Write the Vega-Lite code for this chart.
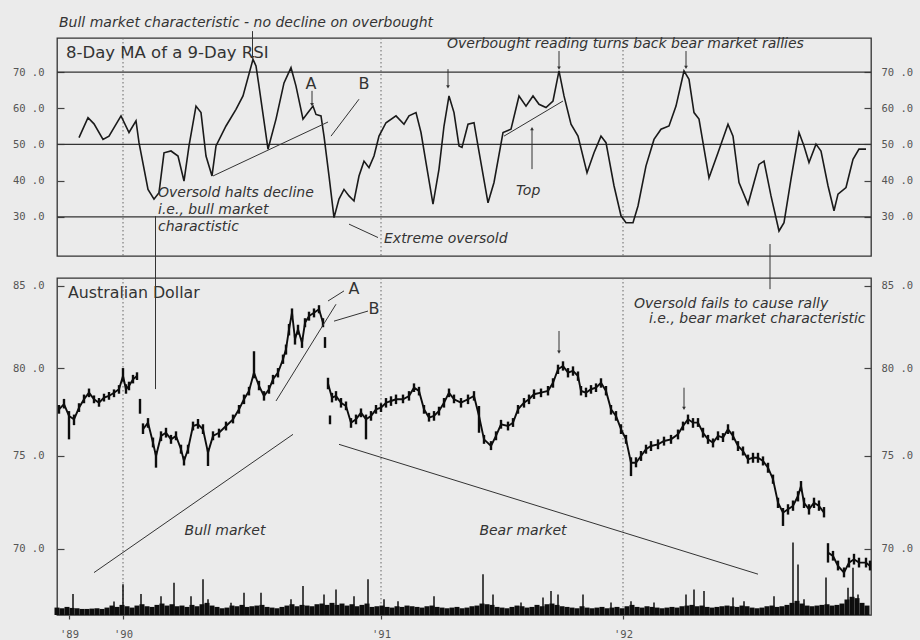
{
"$schema": "https://vega.github.io/schema/vega-lite/v6.json",
"background": "#ebebeb",
"padding": {"left": 11, "top": 15, "right": 9, "bottom": 2},
"bounds": "flush",
"spacing": 22,
"config": {
  "view": {"stroke": "#333", "strokeWidth": 1.3},
  "axis": {"domain": false, "grid": false, "labelFont": "DejaVu Sans Mono", "labelFontSize": 10.5, "labelColor": "#555", "tickColor": "#444", "tickWidth": 1.2},
  "text": {"font": "DejaVu Sans", "color": "#333"}
},
"datasets": {
  "yrs": [{"d": 66}, {"d": 324}, {"d": 566}],
  "levels": [{"h": 30}, {"h": 50}, {"h": 70}],
  "rsi": [{"d":22,"r":51.9},{"d":31,"r":57.4},{"d":37,"r":55.7},{"d":46,"r":51.4},{"d":52,"r":52.3},{"d":64,"r":57.9},{"d":72,"r":53.3},{"d":79,"r":56.5},{"d":82,"r":50.5},{"d":91,"r":37.6},{"d":97,"r":34.9},{"d":102,"r":36.7},{"d":107,"r":47.7},{"d":114,"r":48.2},{"d":121,"r":46.8},{"d":127,"r":39.9},{"d":132,"r":49.6},{"d":139,"r":60.6},{"d":144,"r":58.8},{"d":149,"r":46.8},{"d":155,"r":41.3},{"d":159,"r":49.6},{"d":169,"r":55.1},{"d":179,"r":59.7},{"d":186,"r":63.4},{"d":196,"r":73.5},{"d":199,"r":71.7},{"d":202,"r":66.1},{"d":211,"r":48.7},{"d":219,"r":57},{"d":227,"r":67},{"d":234,"r":71.2},{"d":239,"r":66.1},{"d":246,"r":57},{"d":251,"r":58.8},{"d":256,"r":60.6},{"d":259,"r":58.3},{"d":264,"r":57.9},{"d":267,"r":52.3},{"d":272,"r":41.3},{"d":277,"r":29.8},{"d":282,"r":34.9},{"d":287,"r":37.6},{"d":292,"r":35.8},{"d":297,"r":34.4},{"d":302,"r":41.3},{"d":307,"r":45.4},{"d":312,"r":43.6},{"d":317,"r":46.8},{"d":322,"r":52.3},{"d":329,"r":56},{"d":339,"r":57.9},{"d":347,"r":55.6},{"d":352,"r":57.9},{"d":359,"r":58.8},{"d":364,"r":53.3},{"d":369,"r":45},{"d":376,"r":33.5},{"d":382,"r":43.2},{"d":387,"r":55.1},{"d":392,"r":63.4},{"d":397,"r":58.8},{"d":402,"r":49.6},{"d":405,"r":49.2},{"d":411,"r":55.6},{"d":417,"r":56},{"d":421,"r":49.6},{"d":431,"r":33.9},{"d":437,"r":39.5},{"d":446,"r":53.3},{"d":454,"r":54.2},{"d":462,"r":63.4},{"d":469,"r":60.6},{"d":476,"r":63.4},{"d":482,"r":61.1},{"d":489,"r":60.2},{"d":496,"r":62},{"d":502,"r":70.3},{"d":507,"r":63.4},{"d":514,"r":55.6},{"d":521,"r":52.3},{"d":530,"r":42.2},{"d":537,"r":47.7},{"d":544,"r":52.3},{"d":549,"r":50.5},{"d":557,"r":38.6},{"d":564,"r":30.3},{"d":569,"r":28.4},{"d":576,"r":28.4},{"d":581,"r":33},{"d":589,"r":44.1},{"d":597,"r":51.4},{"d":604,"r":54.2},{"d":612,"r":55.1},{"d":619,"r":60.6},{"d":627,"r":70.3},{"d":632,"r":68},{"d":637,"r":58.8},{"d":642,"r":57},{"d":652,"r":40.8},{"d":661,"r":47.7},{"d":671,"r":55.6},{"d":676,"r":52.3},{"d":682,"r":39.5},{"d":691,"r":33.5},{"d":697,"r":39.5},{"d":702,"r":44.5},{"d":707,"r":45.4},{"d":714,"r":35.8},{"d":722,"r":26.1},{"d":727,"r":28.4},{"d":734,"r":40.4},{"d":742,"r":53.3},{"d":747,"r":49.6},{"d":752,"r":45},{"d":759,"r":50.1},{"d":764,"r":48.2},{"d":771,"r":38.6},{"d":777,"r":31.7},{"d":781,"r":36.3},{"d":789,"r":38.1},{"d":796,"r":45.9},{"d":802,"r":48.7},{"d":809,"r":48.7}],
  "segT": [
    {"d1":195.5,"r1":81.3,"d2":195.5,"r2":74.0},
    {"d1":255,"r1":64.8,"d2":255,"r2":61.0},
    {"d1":302,"r1":62.5,"d2":274,"r2":52.3},
    {"d1":156,"r1":41.3,"d2":271,"r2":56.2},
    {"d1":391,"r1":70.8,"d2":391,"r2":65.9},
    {"d1":502,"r1":75.8,"d2":502,"r2":71.1},
    {"d1":629,"r1":75.8,"d2":629,"r2":71.3},
    {"d1":475,"r1":43.2,"d2":475,"r2":54.4},
    {"d1":447,"r1":52.3,"d2":506,"r2":62.0},
    {"d1":292,"r1":28.0,"d2":321,"r2":24.3}
  ],
  "tipDownT": [{"d":195.5,"r":74.0},{"d":255,"r":61.0},{"d":391,"r":65.9},{"d":502,"r":71.1},{"d":629,"r":71.3}],
  "tipUpT": [{"d":475,"r":54.4}],
  "annT": [
    {"d":2,"r":83.5,"t":"Bull market characteristic - no decline on overbought"},
    {"d":390,"r":77.7,"t":"Overbought reading turns back bear market rallies"},
    {"d":101,"r":36.7,"t":"Oversold halts decline"},
    {"d":101,"r":32.0,"t":"i.e., bull market"},
    {"d":101,"r":27.1,"t":"charactistic"},
    {"d":459,"r":37.2,"t":"Top"},
    {"d":327,"r":23.8,"t":"Extreme oversold"}
  ],
  "abT": [{"d":254,"r":66.8,"t":"A"},{"d":307,"r":66.6,"t":"B"}],
  "px": [
    {"d":2,"c":77.6,"lo":77.35,"hi":77.85,"s":"a"},{"d":7,"c":77.9,"lo":77.65,"hi":78.2,"s":"a"},{"d":12,"c":77.22,"lo":75.9,"hi":77.5,"s":"a"},{"d":17,"c":77.03,"lo":76.7,"hi":77.3,"s":"a"},{"d":22,"c":77.69,"lo":77.45,"hi":77.95,"s":"a"},{"d":27,"c":78.18,"lo":77.95,"hi":78.45,"s":"a"},{"d":32,"c":78.56,"lo":78.3,"hi":78.8,"s":"a"},{"d":37,"c":78.18,"lo":77.95,"hi":78.4,"s":"a"},{"d":42,"c":77.98,"lo":77.75,"hi":78.25,"s":"a"},{"d":47,"c":78.27,"lo":78.05,"hi":78.5,"s":"a"},{"d":52,"c":78.37,"lo":78.15,"hi":78.6,"s":"a"},{"d":57,"c":78.56,"lo":78.3,"hi":78.75,"s":"a"},{"d":62,"c":78.76,"lo":78.5,"hi":79.0,"s":"a"},{"d":66,"c":79.53,"lo":79.2,"hi":80.0,"s":"a"},{"d":69,"c":78.76,"lo":78.5,"hi":79.05,"s":"a"},{"d":72,"c":78.95,"lo":78.7,"hi":79.2,"s":"a"},{"d":76,"c":79.34,"lo":79.1,"hi":79.6,"s":"a"},{"d":80,"c":79.53,"lo":79.3,"hi":79.75,"s":"a"},
    {"d":83,"c":77.75,"lo":77.35,"hi":78.2,"s":"i1"},
    {"d":86,"c":76.47,"lo":76.2,"hi":76.8,"s":"b"},{"d":91,"c":76.84,"lo":76.55,"hi":77.1,"s":"b"},{"d":96,"c":75.71,"lo":75.45,"hi":76.0,"s":"b"},{"d":99,"c":74.97,"lo":74.33,"hi":75.25,"s":"b"},{"d":104,"c":76.09,"lo":75.8,"hi":76.35,"s":"b"},{"d":109,"c":76.27,"lo":76.0,"hi":76.55,"s":"b"},{"d":114,"c":75.9,"lo":75.65,"hi":76.15,"s":"b"},{"d":119,"c":76.09,"lo":75.85,"hi":76.35,"s":"b"},{"d":124,"c":75.35,"lo":75.1,"hi":75.6,"s":"b"},{"d":127,"c":74.7,"lo":74.45,"hi":74.95,"s":"b"},{"d":131,"c":75.35,"lo":75.1,"hi":75.6,"s":"b"},{"d":136,"c":76.65,"lo":76.4,"hi":76.9,"s":"b"},{"d":141,"c":76.75,"lo":76.5,"hi":77.05,"s":"b"},{"d":146,"c":76.47,"lo":76.2,"hi":76.75,"s":"b"},{"d":151,"c":75.16,"lo":74.42,"hi":75.4,"s":"b"},{"d":156,"c":76.09,"lo":75.85,"hi":76.35,"s":"b"},{"d":162,"c":76.27,"lo":76.0,"hi":76.5,"s":"b"},{"d":169,"c":76.65,"lo":76.4,"hi":76.9,"s":"b"},{"d":176,"c":77.03,"lo":76.8,"hi":77.3,"s":"b"},{"d":182,"c":77.6,"lo":77.35,"hi":77.85,"s":"b"},{"d":187,"c":78.18,"lo":77.9,"hi":78.45,"s":"b"},{"d":192,"c":78.66,"lo":78.4,"hi":78.9,"s":"b"},{"d":197,"c":79.73,"lo":79.4,"hi":81.0,"s":"b"},{"d":202,"c":78.95,"lo":78.7,"hi":79.25,"s":"b"},{"d":207,"c":78.37,"lo":78.1,"hi":78.65,"s":"b"},{"d":212,"c":78.76,"lo":78.5,"hi":79.0,"s":"b"},{"d":216,"c":79.34,"lo":79.05,"hi":79.6,"s":"b"},{"d":221,"c":79.73,"lo":79.45,"hi":80.0,"s":"b"},{"d":226,"c":80.52,"lo":80.25,"hi":80.8,"s":"b"},{"d":229,"c":81.12,"lo":80.8,"hi":81.4,"s":"b"},{"d":232,"c":82.32,"lo":81.95,"hi":82.65,"s":"b"},{"d":235,"c":83.34,"lo":83.05,"hi":83.6,"s":"b"},{"d":238,"c":81.72,"lo":81.4,"hi":82.0,"s":"b"},{"d":241,"c":82.32,"lo":82.0,"hi":82.6,"s":"b"},{"d":245,"c":81.51,"lo":81.2,"hi":81.8,"s":"b"},{"d":248,"c":82.72,"lo":82.45,"hi":83.0,"s":"b"},{"d":252,"c":83.13,"lo":82.85,"hi":83.4,"s":"b"},{"d":257,"c":83.34,"lo":83.05,"hi":83.6,"s":"b"},{"d":262,"c":83.55,"lo":83.3,"hi":83.8,"s":"b"},{"d":266,"c":82.72,"lo":82.45,"hi":83.0,"s":"b"},
    {"d":268,"c":81.51,"lo":81.2,"hi":81.85,"s":"i2"},
    {"d":271,"c":79.1,"lo":78.76,"hi":79.43,"s":"c"},
    {"d":273,"c":77.0,"lo":76.75,"hi":77.25,"s":"i3"},
    {"d":275,"c":78.27,"lo":78.0,"hi":78.55,"s":"c"},{"d":279,"c":78.37,"lo":78.1,"hi":78.65,"s":"c"},{"d":284,"c":77.98,"lo":77.7,"hi":78.25,"s":"c"},{"d":289,"c":77.79,"lo":77.55,"hi":78.05,"s":"c"},{"d":294,"c":76.84,"lo":76.55,"hi":77.1,"s":"c"},{"d":299,"c":77.03,"lo":76.75,"hi":77.3,"s":"c"},{"d":304,"c":77.41,"lo":77.15,"hi":77.65,"s":"c"},{"d":309,"c":77.03,"lo":75.9,"hi":77.3,"s":"c"},{"d":314,"c":77.22,"lo":76.95,"hi":77.5,"s":"c"},{"d":319,"c":77.6,"lo":77.35,"hi":77.85,"s":"c"},{"d":324,"c":77.69,"lo":77.45,"hi":77.95,"s":"c"},{"d":329,"c":77.98,"lo":77.7,"hi":78.25,"s":"c"},{"d":334,"c":78.08,"lo":77.8,"hi":78.35,"s":"c"},{"d":339,"c":78.18,"lo":77.9,"hi":78.45,"s":"c"},{"d":346,"c":78.18,"lo":77.95,"hi":78.45,"s":"c"},{"d":352,"c":78.37,"lo":78.1,"hi":78.65,"s":"c"},{"d":357,"c":78.85,"lo":78.6,"hi":79.1,"s":"c"},{"d":362,"c":78.66,"lo":78.4,"hi":78.9,"s":"c"},{"d":367,"c":77.6,"lo":77.35,"hi":77.85,"s":"c"},{"d":372,"c":77.13,"lo":76.9,"hi":77.4,"s":"c"},{"d":377,"c":77.22,"lo":76.95,"hi":77.5,"s":"c"},{"d":382,"c":77.51,"lo":77.25,"hi":77.75,"s":"c"},{"d":387,"c":77.98,"lo":77.7,"hi":78.25,"s":"c"},{"d":392,"c":78.56,"lo":78.3,"hi":78.8,"s":"c"},{"d":397,"c":78.18,"lo":77.95,"hi":78.45,"s":"c"},{"d":404,"c":77.98,"lo":77.7,"hi":78.25,"s":"c"},{"d":411,"c":78.18,"lo":77.9,"hi":78.45,"s":"c"},{"d":417,"c":78.37,"lo":78.1,"hi":78.65,"s":"c"},{"d":422,"c":77.22,"lo":76.27,"hi":77.79,"s":"c"},{"d":427,"c":75.9,"lo":75.65,"hi":76.15,"s":"c"},{"d":434,"c":75.53,"lo":75.3,"hi":75.8,"s":"c"},{"d":439,"c":76.09,"lo":75.85,"hi":76.35,"s":"c"},{"d":444,"c":76.75,"lo":76.5,"hi":77.0,"s":"c"},{"d":451,"c":76.65,"lo":76.4,"hi":76.9,"s":"c"},{"d":456,"c":76.84,"lo":76.6,"hi":77.1,"s":"c"},{"d":461,"c":77.6,"lo":77.35,"hi":77.85,"s":"c"},{"d":467,"c":77.98,"lo":77.7,"hi":78.25,"s":"c"},{"d":472,"c":78.18,"lo":77.9,"hi":78.45,"s":"c"},{"d":477,"c":78.47,"lo":78.2,"hi":78.75,"s":"c"},{"d":484,"c":78.56,"lo":78.3,"hi":78.8,"s":"c"},{"d":491,"c":78.66,"lo":78.4,"hi":78.95,"s":"c"},{"d":496,"c":79.14,"lo":78.85,"hi":79.4,"s":"c"},{"d":501,"c":79.93,"lo":79.65,"hi":80.2,"s":"c"},{"d":506,"c":80.12,"lo":79.85,"hi":80.4,"s":"c"},{"d":511,"c":79.73,"lo":79.45,"hi":80.0,"s":"c"},{"d":516,"c":79.83,"lo":79.55,"hi":80.1,"s":"c"},{"d":521,"c":79.53,"lo":79.25,"hi":79.8,"s":"c"},{"d":524,"c":78.66,"lo":78.4,"hi":78.95,"s":"c"},{"d":529,"c":78.56,"lo":78.3,"hi":78.85,"s":"c"},{"d":534,"c":78.76,"lo":78.5,"hi":79.0,"s":"c"},{"d":539,"c":78.85,"lo":78.6,"hi":79.1,"s":"c"},{"d":544,"c":79.14,"lo":78.85,"hi":79.4,"s":"c"},{"d":549,"c":78.66,"lo":78.4,"hi":78.95,"s":"c"},{"d":554,"c":77.6,"lo":77.3,"hi":77.85,"s":"c"},{"d":559,"c":77.22,"lo":76.95,"hi":77.5,"s":"c"},{"d":564,"c":76.47,"lo":76.2,"hi":76.75,"s":"c"},{"d":569,"c":75.9,"lo":75.65,"hi":76.15,"s":"c"},{"d":574,"c":74.6,"lo":73.87,"hi":74.9,"s":"c"},{"d":579,"c":74.6,"lo":74.35,"hi":74.9,"s":"c"},{"d":584,"c":74.97,"lo":74.7,"hi":75.25,"s":"c"},{"d":589,"c":75.35,"lo":75.1,"hi":75.6,"s":"c"},{"d":594,"c":75.53,"lo":75.25,"hi":75.8,"s":"c"},{"d":601,"c":75.62,"lo":75.35,"hi":75.9,"s":"c"},{"d":607,"c":75.81,"lo":75.55,"hi":76.05,"s":"c"},{"d":614,"c":75.9,"lo":75.65,"hi":76.15,"s":"c"},{"d":621,"c":76.18,"lo":75.9,"hi":76.45,"s":"c"},{"d":626,"c":76.65,"lo":76.4,"hi":76.9,"s":"c"},{"d":631,"c":77.03,"lo":76.75,"hi":77.3,"s":"c"},{"d":636,"c":76.84,"lo":76.55,"hi":77.1,"s":"c"},{"d":641,"c":76.84,"lo":76.6,"hi":77.1,"s":"c"},{"d":646,"c":76.27,"lo":76.0,"hi":76.55,"s":"c"},{"d":651,"c":75.9,"lo":75.65,"hi":76.15,"s":"c"},{"d":656,"c":75.71,"lo":75.45,"hi":75.95,"s":"c"},{"d":661,"c":76.09,"lo":75.85,"hi":76.35,"s":"c"},{"d":666,"c":76.0,"lo":75.75,"hi":76.25,"s":"c"},{"d":671,"c":76.47,"lo":76.2,"hi":76.75,"s":"c"},{"d":676,"c":76.09,"lo":75.85,"hi":76.35,"s":"c"},{"d":681,"c":75.53,"lo":75.25,"hi":75.8,"s":"c"},{"d":686,"c":75.25,"lo":75.0,"hi":75.5,"s":"c"},{"d":691,"c":74.79,"lo":74.55,"hi":75.05,"s":"c"},{"d":696,"c":74.88,"lo":74.6,"hi":75.15,"s":"c"},{"d":701,"c":74.88,"lo":74.6,"hi":75.15,"s":"c"},{"d":706,"c":74.7,"lo":74.45,"hi":74.95,"s":"c"},{"d":711,"c":74.33,"lo":74.05,"hi":74.6,"s":"c"},{"d":716,"c":73.7,"lo":73.45,"hi":73.95,"s":"c"},{"d":721,"c":72.43,"lo":72.15,"hi":72.7,"s":"c"},{"d":726,"c":71.9,"lo":71.2,"hi":72.15,"s":"c"},{"d":731,"c":72.08,"lo":71.8,"hi":72.35,"s":"c"},{"d":736,"c":72.26,"lo":72.0,"hi":72.55,"s":"c"},{"d":741,"c":72.79,"lo":72.5,"hi":73.05,"s":"c"},{"d":744,"c":73.33,"lo":73.05,"hi":73.6,"s":"c"},{"d":747,"c":72.43,"lo":72.15,"hi":72.7,"s":"c"},{"d":752,"c":72.08,"lo":71.8,"hi":72.35,"s":"c"},{"d":757,"c":72.43,"lo":72.15,"hi":72.7,"s":"c"},{"d":762,"c":72.26,"lo":72.0,"hi":72.55,"s":"c"},{"d":767,"c":71.9,"lo":71.65,"hi":72.2,"s":"c"},
    {"d":771,"c":69.81,"lo":69.3,"hi":70.3,"s":"d"},{"d":776,"c":69.64,"lo":69.4,"hi":69.9,"s":"d"},{"d":781,"c":69.13,"lo":68.9,"hi":69.4,"s":"d"},{"d":787,"c":68.79,"lo":68.55,"hi":69.05,"s":"d"},{"d":792,"c":69.3,"lo":69.05,"hi":69.55,"s":"d"},{"d":797,"c":69.47,"lo":69.2,"hi":69.75,"s":"d"},{"d":802,"c":69.3,"lo":69.05,"hi":69.55,"s":"d"},{"d":809,"c":69.3,"lo":69.05,"hi":69.55,"s":"d"},{"d":813,"c":69.13,"lo":68.9,"hi":69.4,"s":"d"}
  ],
  "segB": [
    {"d1":287,"v1":84.69,"d2":271,"v2":84.06},
    {"d1":311,"v1":83.44,"d2":277,"v2":82.82},
    {"d1":219,"v1":78.08,"d2":279,"v2":83.86},
    {"d1":37,"v1":68.79,"d2":236,"v2":76.18},
    {"d1":282,"v1":75.62,"d2":701,"v2":68.71},
    {"d1":502,"v1":82.22,"d2":502,"v2":80.95},
    {"d1":627,"v1":78.85,"d2":627,"v2":77.65},
    {"d1":98.5,"v1":78.77,"d2":98.5,"v2":89.5},
    {"d1":713,"v1":84.8,"d2":713,"v2":87.67}
  ],
  "tipDownB": [{"d":502,"v":80.95},{"d":627,"v":77.65}],
  "annB": [
    {"d":168,"v":70.94,"t":"Bull market"},
    {"d":466,"v":70.94,"t":"Bear market"}
  ],
  "annB2": [
    {"d":577,"v":83.9,"t":"Oversold fails to cause rally"},
    {"d":592,"v":82.93,"t":"i.e., bear market characteristic"}
  ],
  "abB": [{"d":297,"v":84.79,"t":"A"},{"d":317,"v":83.55,"t":"B"}],
  "volBase": [{"d":0,"v":2.2},{"d":5,"v":2.0},{"d":10,"v":2.4},{"d":15,"v":2.1},{"d":20,"v":2.0},{"d":25,"v":1.8},{"d":30,"v":1.8},{"d":35,"v":1.9},{"d":40,"v":2.0},{"d":45,"v":1.8},{"d":50,"v":2.2},{"d":55,"v":2.8},{"d":60,"v":2.4},{"d":65,"v":3.0},{"d":70,"v":2.6},{"d":75,"v":2.2},{"d":80,"v":2.8},{"d":85,"v":3.2},{"d":90,"v":2.6},{"d":95,"v":2.4},{"d":100,"v":3.0},{"d":105,"v":3.4},{"d":110,"v":2.8},{"d":115,"v":3.2},{"d":120,"v":2.6},{"d":125,"v":2.8},{"d":130,"v":2.4},{"d":135,"v":3.0},{"d":140,"v":2.6},{"d":145,"v":3.2},{"d":150,"v":3.6},{"d":155,"v":2.8},{"d":160,"v":2.4},{"d":165,"v":2.0},{"d":170,"v":2.2},{"d":175,"v":2.8},{"d":180,"v":2.6},{"d":185,"v":3.0},{"d":190,"v":2.4},{"d":195,"v":2.6},{"d":200,"v":2.8},{"d":205,"v":3.0},{"d":210,"v":2.4},{"d":215,"v":2.2},{"d":220,"v":2.0},{"d":225,"v":2.4},{"d":230,"v":2.8},{"d":235,"v":3.2},{"d":240,"v":2.6},{"d":245,"v":3.0},{"d":250,"v":2.8},{"d":255,"v":2.6},{"d":260,"v":3.2},{"d":265,"v":3.4},{"d":270,"v":3.0},{"d":275,"v":3.6},{"d":280,"v":3.0},{"d":285,"v":3.4},{"d":290,"v":2.8},{"d":295,"v":3.2},{"d":300,"v":2.6},{"d":305,"v":3.0},{"d":310,"v":3.4},{"d":315,"v":2.4},{"d":320,"v":2.6},{"d":325,"v":2.8},{"d":330,"v":2.4},{"d":335,"v":2.2},{"d":340,"v":2.6},{"d":345,"v":2.4},{"d":350,"v":2.8},{"d":355,"v":2.6},{"d":360,"v":2.4},{"d":365,"v":2.2},{"d":370,"v":2.6},{"d":375,"v":2.8},{"d":380,"v":2.4},{"d":385,"v":2.2},{"d":390,"v":2.0},{"d":395,"v":2.2},{"d":400,"v":2.4},{"d":405,"v":2.0},{"d":410,"v":2.2},{"d":415,"v":2.6},{"d":420,"v":2.8},{"d":425,"v":3.4},{"d":430,"v":3.2},{"d":435,"v":3.0},{"d":440,"v":2.4},{"d":445,"v":2.2},{"d":450,"v":2.0},{"d":455,"v":2.4},{"d":460,"v":2.8},{"d":465,"v":2.6},{"d":470,"v":2.2},{"d":475,"v":2.4},{"d":480,"v":3.0},{"d":485,"v":2.6},{"d":490,"v":3.2},{"d":495,"v":3.4},{"d":500,"v":3.0},{"d":505,"v":2.6},{"d":510,"v":2.4},{"d":515,"v":2.2},{"d":520,"v":2.0},{"d":525,"v":2.6},{"d":530,"v":2.2},{"d":535,"v":2.0},{"d":540,"v":2.2},{"d":545,"v":2.4},{"d":550,"v":2.0},{"d":555,"v":2.2},{"d":560,"v":2.4},{"d":565,"v":2.0},{"d":570,"v":2.6},{"d":575,"v":3.0},{"d":580,"v":2.4},{"d":585,"v":2.2},{"d":590,"v":2.6},{"d":595,"v":2.4},{"d":600,"v":2.2},{"d":605,"v":2.0},{"d":610,"v":2.2},{"d":615,"v":2.4},{"d":620,"v":2.2},{"d":625,"v":2.6},{"d":630,"v":2.8},{"d":635,"v":3.0},{"d":640,"v":2.6},{"d":645,"v":2.8},{"d":650,"v":2.4},{"d":655,"v":2.2},{"d":660,"v":2.4},{"d":665,"v":2.6},{"d":670,"v":2.8},{"d":675,"v":2.6},{"d":680,"v":2.4},{"d":685,"v":2.8},{"d":690,"v":2.6},{"d":695,"v":2.2},{"d":700,"v":2.0},{"d":705,"v":2.2},{"d":710,"v":2.6},{"d":715,"v":2.8},{"d":720,"v":2.4},{"d":725,"v":2.6},{"d":730,"v":3.0},{"d":735,"v":3.6},{"d":740,"v":4.2},{"d":745,"v":3.4},{"d":750,"v":2.8},{"d":755,"v":2.6},{"d":760,"v":2.8},{"d":765,"v":3.0},{"d":770,"v":3.2},{"d":775,"v":2.8},{"d":780,"v":3.0},{"d":785,"v":3.4},{"d":790,"v":4.6},{"d":795,"v":5.4},{"d":800,"v":5.0},{"d":805,"v":3.6},{"d":810,"v":2.8}],
  "volSpike": [{"d":16,"v":6.2},{"d":57,"v":4.0},{"d":66,"v":9.1},{"d":84,"v":6.2},{"d":104,"v":5.6},{"d":117,"v":9.6},{"d":134,"v":5.6},{"d":146,"v":10.6},{"d":151,"v":4.7},{"d":174,"v":3.6},{"d":187,"v":6.6},{"d":204,"v":6.6},{"d":234,"v":4.7},{"d":246,"v":8.6},{"d":267,"v":6.1},{"d":279,"v":7.6},{"d":297,"v":5.6},{"d":311,"v":10.6},{"d":327,"v":4.7},{"d":341,"v":4.1},{"d":377,"v":5.6},{"d":426,"v":12.1},{"d":436,"v":6.1},{"d":464,"v":3.7},{"d":486,"v":5.2},{"d":494,"v":7.1},{"d":501,"v":6.1},{"d":526,"v":6.1},{"d":554,"v":3.7},{"d":574,"v":4.1},{"d":597,"v":3.7},{"d":629,"v":6.1},{"d":637,"v":7.6},{"d":647,"v":7.1},{"d":676,"v":5.2},{"d":687,"v":4.1},{"d":717,"v":5.6},{"d":736,"v":21.5},{"d":741,"v":15.0},{"d":747,"v":4.7},{"d":769,"v":11.1},{"d":791,"v":8.1},{"d":796,"v":14.0},{"d":801,"v":6.1},{"d":811,"v":2.5}]
},
"vconcat": [
  {
    "width": 814, "height": 218,
    "layer": [
      {"data": {"name": "yrs"}, "mark": {"type": "rule", "strokeDash": [1.5, 2.5], "color": "#666", "strokeWidth": 1},
       "encoding": {"x": {"field": "d", "type": "quantitative", "scale": {"domain": [0, 814], "nice": false, "zero": false}, "axis": null}}},
      {"data": {"name": "levels"}, "mark": {"type": "rule", "color": "#333", "strokeWidth": 1.3},
       "encoding": {"y": {"field": "h", "type": "quantitative", "scale": {"domain": [19.2, 79.4], "nice": false, "zero": false},
         "axis": {"orient": "right", "values": [30, 40, 50, 60, 70], "tickSize": -7, "labelPadding": 17, "title": null, "labelExpr": "replace(format(datum.value, '.1f'), '.', ' .')"}}}},
      {"data": {"name": "rsi"}, "mark": {"type": "line", "color": "#1a1a1a", "strokeWidth": 1.6},
       "encoding": {"x": {"field": "d", "type": "quantitative", "scale": {"domain": [0, 814], "nice": false, "zero": false}, "axis": null},
         "y": {"field": "r", "type": "quantitative", "scale": {"domain": [19.2, 79.4], "nice": false, "zero": false},
         "axis": {"orient": "left", "values": [30, 40, 50, 60, 70], "tickSize": -7, "labelPadding": 20, "title": null, "labelExpr": "replace(format(datum.value, '.1f'), '.', ' .')"}}}},
      {"data": {"name": "segT"}, "mark": {"type": "rule", "color": "#333", "strokeWidth": 1},
       "encoding": {"x": {"field": "d1", "type": "quantitative", "scale": {"domain": [0, 814], "nice": false, "zero": false}, "axis": null},
         "x2": {"field": "d2"},
         "y": {"field": "r1", "type": "quantitative", "scale": {"domain": [19.2, 79.4], "nice": false, "zero": false}, "axis": null},
         "y2": {"field": "r2"}}},
      {"data": {"name": "tipDownT"}, "mark": {"type": "point", "shape": "triangle-down", "filled": true, "color": "#333", "size": 14, "opacity": 1},
       "encoding": {"x": {"field": "d", "type": "quantitative", "scale": {"domain": [0, 814], "nice": false, "zero": false}, "axis": null},
         "y": {"field": "r", "type": "quantitative", "scale": {"domain": [19.2, 79.4], "nice": false, "zero": false}, "axis": null}}},
      {"data": {"name": "tipUpT"}, "mark": {"type": "point", "shape": "triangle-up", "filled": true, "color": "#333", "size": 14, "opacity": 1},
       "encoding": {"x": {"field": "d", "type": "quantitative", "scale": {"domain": [0, 814], "nice": false, "zero": false}, "axis": null},
         "y": {"field": "r", "type": "quantitative", "scale": {"domain": [19.2, 79.4], "nice": false, "zero": false}, "axis": null}}},
      {"data": {"name": "annT"}, "mark": {"type": "text", "align": "left", "baseline": "middle", "fontStyle": "italic", "fontSize": 14, "color": "#333"},
       "encoding": {"x": {"field": "d", "type": "quantitative", "scale": {"domain": [0, 814], "nice": false, "zero": false}, "axis": null},
         "y": {"field": "r", "type": "quantitative", "scale": {"domain": [19.2, 79.4], "nice": false, "zero": false}, "axis": null},
         "text": {"field": "t"}}},
      {"data": {"name": "abT"}, "mark": {"type": "text", "align": "center", "baseline": "middle", "fontSize": 16, "color": "#333"},
       "encoding": {"x": {"field": "d", "type": "quantitative", "scale": {"domain": [0, 814], "nice": false, "zero": false}, "axis": null},
         "y": {"field": "r", "type": "quantitative", "scale": {"domain": [19.2, 79.4], "nice": false, "zero": false}, "axis": null},
         "text": {"field": "t"}}},
      {"data": {"values": [{"d": 9, "r": 75.2, "t": "8-Day MA of a 9-Day RSI"}]}, "mark": {"type": "text", "align": "left", "baseline": "middle", "fontSize": 16.5, "color": "#333"},
       "encoding": {"x": {"field": "d", "type": "quantitative", "scale": {"domain": [0, 814], "nice": false, "zero": false}, "axis": null},
         "y": {"field": "r", "type": "quantitative", "scale": {"domain": [19.2, 79.4], "nice": false, "zero": false}, "axis": null},
         "text": {"field": "t"}}}
    ],
    "resolve": {"axis": {"y": "independent"}}
  },
  {
    "width": 814, "height": 337,
    "layer": [
      {
        "layer": [
          {"data": {"name": "yrs"}, "mark": {"type": "rule", "strokeDash": [1.5, 2.5], "color": "#666", "strokeWidth": 1},
           "encoding": {"x": {"field": "d", "type": "quantitative", "scale": {"domain": [0, 814], "nice": false, "zero": false},
             "axis": {"values": [12, 66, 324, 566], "title": null, "tickSize": 4, "labelPadding": 10, "labelExpr": "datum.value == 12 ? \"'89\" : datum.value == 66 ? \"'90\" : datum.value == 324 ? \"'91\" : \"'92\""}}}},
          {"data": {"name": "px"}, "mark": {"type": "rule", "color": "#0d0d0d", "strokeWidth": 2.4},
           "encoding": {"x": {"field": "d", "type": "quantitative", "title": null, "scale": {"domain": [0, 814], "nice": false, "zero": false}},
             "y": {"field": "lo", "type": "quantitative", "scale": {"type": "log", "domain": [66.67, 85.5], "nice": false},
               "axis": {"orient": "left", "values": [70, 75, 80, 85], "tickSize": -7, "labelPadding": 20, "title": null, "labelExpr": "replace(format(datum.value, '.1f'), '.', ' .')"}},
             "y2": {"field": "hi"}}},
          {"data": {"name": "px"}, "mark": {"type": "line", "color": "#0d0d0d", "strokeWidth": 1.9},
           "encoding": {"x": {"field": "d", "type": "quantitative", "title": null, "scale": {"domain": [0, 814], "nice": false, "zero": false}},
             "y": {"field": "c", "type": "quantitative", "scale": {"type": "log", "domain": [66.67, 85.5], "nice": false},
               "axis": {"orient": "right", "values": [70, 75, 80, 85], "tickSize": -7, "labelPadding": 17, "title": null, "labelExpr": "replace(format(datum.value, '.1f'), '.', ' .')"}},
             "detail": {"field": "s"}}},
          {"data": {"name": "segB"}, "mark": {"type": "rule", "color": "#333", "strokeWidth": 1},
           "encoding": {"x": {"field": "d1", "type": "quantitative", "title": null, "scale": {"domain": [0, 814], "nice": false, "zero": false}},
             "x2": {"field": "d2"},
             "y": {"field": "v1", "type": "quantitative", "scale": {"type": "log", "domain": [66.67, 85.5], "nice": false}, "axis": null},
             "y2": {"field": "v2"}}},
          {"data": {"name": "tipDownB"}, "mark": {"type": "point", "shape": "triangle-down", "filled": true, "color": "#333", "size": 14, "opacity": 1},
           "encoding": {"x": {"field": "d", "type": "quantitative", "title": null, "scale": {"domain": [0, 814], "nice": false, "zero": false}},
             "y": {"field": "v", "type": "quantitative", "scale": {"type": "log", "domain": [66.67, 85.5], "nice": false}, "axis": null}}},
          {"data": {"name": "annB"}, "mark": {"type": "text", "align": "center", "baseline": "middle", "fontStyle": "italic", "fontSize": 14, "color": "#333"},
           "encoding": {"x": {"field": "d", "type": "quantitative", "title": null, "scale": {"domain": [0, 814], "nice": false, "zero": false}},
             "y": {"field": "v", "type": "quantitative", "scale": {"type": "log", "domain": [66.67, 85.5], "nice": false}, "axis": null},
             "text": {"field": "t"}}},
          {"data": {"name": "annB2"}, "mark": {"type": "text", "align": "left", "baseline": "middle", "fontStyle": "italic", "fontSize": 14, "color": "#333"},
           "encoding": {"x": {"field": "d", "type": "quantitative", "title": null, "scale": {"domain": [0, 814], "nice": false, "zero": false}},
             "y": {"field": "v", "type": "quantitative", "scale": {"type": "log", "domain": [66.67, 85.5], "nice": false}, "axis": null},
             "text": {"field": "t"}}},
          {"data": {"name": "abB"}, "mark": {"type": "text", "align": "center", "baseline": "middle", "fontSize": 16, "color": "#333"},
           "encoding": {"x": {"field": "d", "type": "quantitative", "title": null, "scale": {"domain": [0, 814], "nice": false, "zero": false}},
             "y": {"field": "v", "type": "quantitative", "scale": {"type": "log", "domain": [66.67, 85.5], "nice": false}, "axis": null},
             "text": {"field": "t"}}},
          {"data": {"values": [{"d": 11, "v": 84.57, "t": "Australian Dollar"}]}, "mark": {"type": "text", "align": "left", "baseline": "middle", "fontSize": 15.8, "color": "#333"},
           "encoding": {"x": {"field": "d", "type": "quantitative", "title": null, "scale": {"domain": [0, 814], "nice": false, "zero": false}},
             "y": {"field": "v", "type": "quantitative", "scale": {"type": "log", "domain": [66.67, 85.5], "nice": false}, "axis": null},
             "text": {"field": "t"}}}
        ],
        "resolve": {"axis": {"y": "independent"}}
      },
      {"data": {"name": "volBase"}, "mark": {"type": "rule", "color": "#0d0d0d", "strokeWidth": 5},
       "encoding": {"x": {"field": "d", "type": "quantitative", "title": null, "scale": {"domain": [0, 814], "nice": false, "zero": false}},
         "y": {"field": "v", "type": "quantitative", "scale": {"domain": [0, 100], "nice": false}, "axis": null},
         "y2": {"datum": 0}}},
      {"data": {"name": "volSpike"}, "mark": {"type": "rule", "color": "#111", "strokeWidth": 1.5},
       "encoding": {"x": {"field": "d", "type": "quantitative", "title": null, "scale": {"domain": [0, 814], "nice": false, "zero": false}},
         "y": {"field": "v", "type": "quantitative", "scale": {"domain": [0, 100], "nice": false}, "axis": null},
         "y2": {"datum": 0}}}
    ],
    "resolve": {"scale": {"y": "independent"}}
  }
]
}
